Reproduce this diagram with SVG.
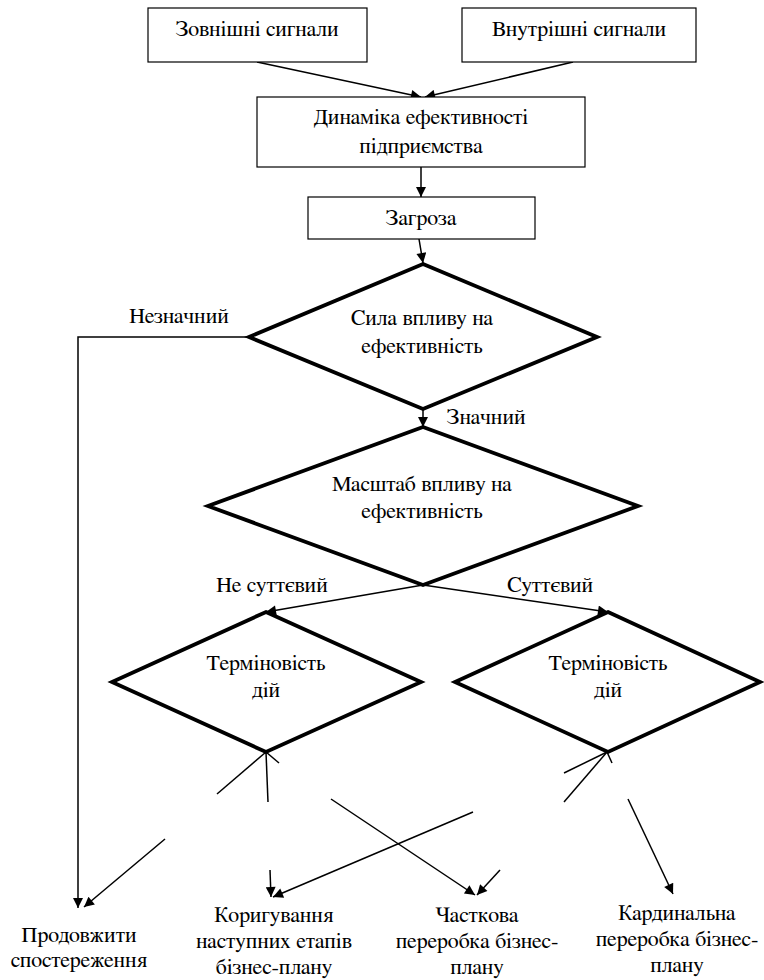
<svg xmlns="http://www.w3.org/2000/svg" width="764" height="980" viewBox="0 0 764 980">
<style>
text{font-family:"FreeSerif","Liberation Serif","Times New Roman",serif;font-size:22px;fill:#000;text-anchor:middle}
.box{fill:#fff;stroke:#000;stroke-width:1.2}
.dia{fill:#fff;stroke:#000;stroke-width:3.8;stroke-linejoin:miter}
.c{fill:none;stroke:#000;stroke-width:1.5}
.a{fill:none;stroke:#000;stroke-width:1.5;marker-end:url(#ah)}
</style>
<defs>
<marker id="ah" viewBox="0 0 10 10" refX="10" refY="5" markerWidth="13" markerHeight="10" markerUnits="userSpaceOnUse" orient="auto"><path d="M0,0 L10,5 L0,10 z" fill="#000"/></marker>
</defs>
<rect width="764" height="980" fill="#fff"/>

<g id="connectors">
<line class="a" x1="257" y1="62" x2="421" y2="97"/>
<line class="a" x1="573" y1="62" x2="425" y2="97"/>
<line class="a" x1="421" y1="167" x2="421" y2="197"/>
<line class="a" x1="419" y1="239" x2="423" y2="263"/>
<line class="a" x1="423" y1="409" x2="423" y2="427"/>
<polyline class="a" points="249,337 78,337 78,908"/>
<line class="a" x1="423" y1="585" x2="266" y2="612"/>
<line class="a" x1="423" y1="585" x2="608" y2="612"/>
<line class="c" x1="266" y1="752" x2="217" y2="794"/>
<line class="c" x1="266" y1="752" x2="268" y2="802"/>
<line class="c" x1="266" y1="752" x2="279" y2="763"/>
<line class="a" x1="165" y1="839" x2="84" y2="907"/>
<line class="a" x1="270" y1="870" x2="271" y2="897"/>
<line class="a" x1="473" y1="812" x2="273" y2="897"/>
<line class="a" x1="331" y1="799" x2="475" y2="895"/>
<line class="a" x1="500" y1="870" x2="477" y2="895"/>
<line class="c" x1="607" y1="752" x2="564" y2="773"/>
<line class="c" x1="607" y1="752" x2="564" y2="802"/>
<line class="c" x1="607" y1="752" x2="612" y2="763"/>
<line class="a" x1="628" y1="799" x2="673" y2="894"/>
</g>

<g id="n-external">
<rect class="box" x="148" y="8" width="219" height="54"/>
<text x="257" y="36">Зовнішні сигнали</text>
</g>
<g id="n-internal">
<rect class="box" x="462" y="8" width="234" height="54"/>
<text x="579" y="36">Внутрішні сигнали</text>
</g>
<g id="n-dynamics">
<rect class="box" x="257" y="97" width="328" height="70"/>
<text x="421" y="124">Динаміка ефективності</text>
<text x="421" y="153">підприємства</text>
</g>
<g id="n-threat">
<rect class="box" x="308" y="197" width="227" height="42"/>
<text x="421" y="225">Загроза</text>
</g>
<g id="n-strength">
<polygon class="dia" points="423,264 597,337 423,409 249,337"/>
<text x="422" y="325">Сила впливу на</text>
<text x="422" y="353">ефективність</text>
</g>
<text x="179" y="323">Незначний</text>
<text x="486" y="424">Значний</text>
<g id="n-scale">
<polygon class="dia" points="423,427 638,506 423,585 208,506"/>
<text x="422" y="491">Масштаб впливу на</text>
<text x="422" y="518">ефективність</text>
</g>
<text x="272" y="592">Не суттєвий</text>
<text x="550" y="592">Суттєвий</text>
<g id="n-urgency-left">
<polygon class="dia" points="266,612 421,682 266,752 112,682"/>
<text x="266" y="670">Терміновість</text>
<text x="266" y="697">дій</text>
</g>
<g id="n-urgency-right">
<polygon class="dia" points="608,612 760,682 608,752 455,682"/>
<text x="608" y="670">Терміновість</text>
<text x="608" y="697">дій</text>
</g>
<g id="n-continue">
<text x="79" y="942">Продовжити</text>
<text x="79" y="967">спостереження</text>
</g>
<g id="n-correct">
<text x="274" y="922">Коригування</text>
<text x="274" y="948">наступних етапів</text>
<text x="274" y="974">бізнес-плану</text>
</g>
<g id="n-partial">
<text x="477" y="922">Часткова</text>
<text x="477" y="948">переробка бізнес-</text>
<text x="477" y="974">плану</text>
</g>
<g id="n-cardinal">
<text x="677" y="920">Кардинальна</text>
<text x="677" y="946">переробка бізнес-</text>
<text x="677" y="972">плану</text>
</g>
</svg>
